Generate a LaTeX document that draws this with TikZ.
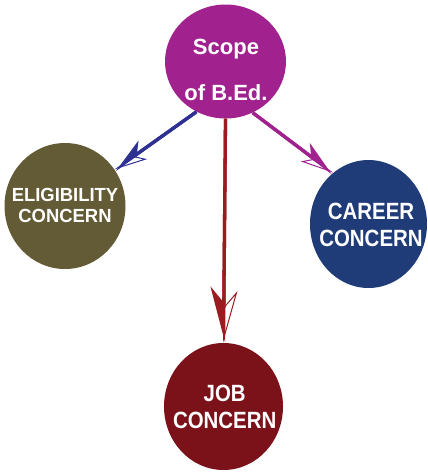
\documentclass[tikz,border=0pt]{standalone}
\usepackage{fontspec}
\setmainfont{Liberation Sans}
\newfontfamily\narrowfont{Liberation Sans}[FakeStretch=0.87]
\newfontfamily\eligfont{Liberation Sans}[FakeStretch=0.97]
\usetikzlibrary{arrows.meta,shapes.geometric}
\definecolor{cTop}{HTML}{A1228E}
\definecolor{cElig}{HTML}{625B35}
\definecolor{cCareer}{HTML}{1F3C78}
\definecolor{cJob}{HTML}{7B1119}
\definecolor{aBlue}{HTML}{2E3192}
\definecolor{aRed}{HTML}{9B1C20}
\definecolor{aMag}{HTML}{A0228F}
\tikzset{
  blob/.style={ellipse, draw=none, inner sep=0pt},
  txt/.style={text=white, align=center, inner sep=0pt},
  shaft/.style={line width=3.3pt},
  bigfill/.style={-{Stealth[#1, length=50pt, width=27pt, inset=16pt]}},
  bigopen/.style={-{Stealth[#1, open, length=50pt, width=27pt, inset=16pt, line width=1pt]}},
  smallfill/.style={-{Stealth[#1, length=31pt, width=20pt, inset=9pt]}},
  smallopen/.style={-{Stealth[#1, open, length=31pt, width=20pt, inset=9pt, line width=1pt]}},
}
\begin{document}
\begin{tikzpicture}[x=1pt,y=-1pt]
\useasboundingbox (0,0) rectangle (428,472);
% circles
\node[blob, fill=cTop, minimum width=121pt, minimum height=114pt] (top) at (225.5,61.5) {};
\node[blob, fill=cElig, minimum width=121pt, minimum height=126pt] (elig) at (65,206) {};
\node[blob, fill=cCareer, minimum width=117pt, minimum height=128pt] (career) at (368.5,224) {};
\node[blob, fill=cJob, minimum width=119pt, minimum height=127pt] (job) at (223.5,406.5) {};
% texts
\node[txt, font=\fontsize{22pt}{46pt}\selectfont\bfseries] (topT) at (226,70.3) {Scope\\of B.Ed.};
\node[txt, font=\eligfont\fontsize{19pt}{21.5pt}\selectfont\bfseries] (eligT) at (65,205.7) {ELIGIBILITY\\CONCERN};
\node[txt, font=\narrowfont\fontsize{23.5pt}{27pt}\selectfont\bfseries] (careerT) at (371,225) {CAREER\\CONCERN};
\node[txt, font=\narrowfont\fontsize{23.5pt}{27pt}\selectfont\bfseries] (jobT) at (224.7,407) {JOB\\CONCERN};
% connectors
\draw[shaft, color=aBlue, smallfill=right] (top.240) -- (elig.36);
\draw[shaft, color=aBlue, smallopen=left] (top.240) -- (elig.36);
\draw[shaft, color=aMag, smallfill=left] (top.298) -- (career.125);
\draw[shaft, color=aMag, smallopen=right] (top.298) -- (career.125);
\draw[shaft, color=aRed, bigfill=right] (top.south) -- (job.north);
\draw[shaft, color=aRed, bigopen=left] (top.south) -- (job.north);
\end{tikzpicture}
\end{document}
